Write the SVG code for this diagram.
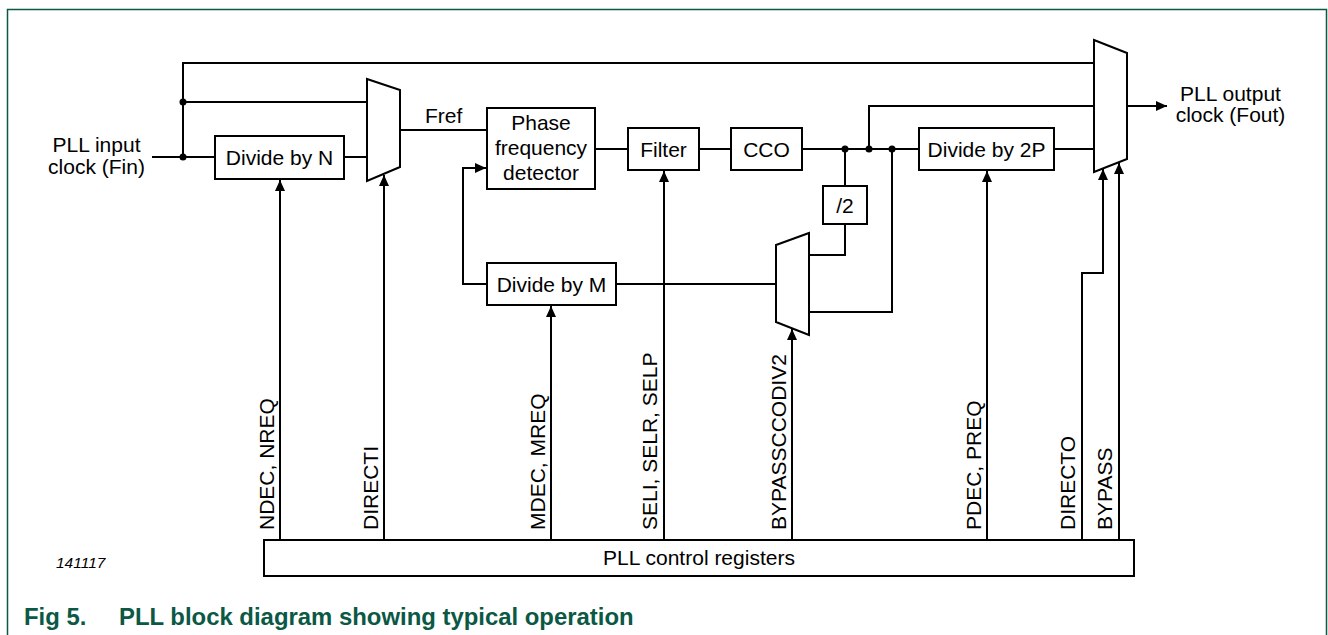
<svg xmlns="http://www.w3.org/2000/svg" width="1328" height="635" viewBox="0 0 1328 635">
<style>
.box{fill:#fff;stroke:#000;stroke-width:2}
.w{fill:none;stroke:#000;stroke-width:2}
.t{font-family:"Liberation Sans",Arial,sans-serif;font-size:21px;fill:#000}
.c{text-anchor:middle}
.dot{fill:#000}
.cap{font-family:"Liberation Sans",Arial,sans-serif;font-size:23.9px;font-weight:bold;fill:#0b5845}
</style>
<defs>
<marker id="arr" markerUnits="userSpaceOnUse" markerWidth="12" markerHeight="10" refX="11" refY="5" orient="auto">
<path d="M0,0 L11,5 L0,10 z" fill="#000"/>
</marker>
</defs>
<rect width="1328" height="635" fill="#fff"/>
<path d="M7.5,640 V9.5 H1326.5 V640" fill="none" stroke="#0b5845" stroke-width="1.5"/>

<g id="connectors">
<path class="w" d="M152,157 H215"/>
<path class="w" d="M183,157 V63 H1094"/>
<path class="w" d="M183,102 H367"/>
<path class="w" d="M344,157 H367"/>
<path class="w" d="M400,130 H487"/>
<path class="w" d="M595,149 H628"/>
<path class="w" d="M699,149 H731"/>
<path class="w" d="M802,149 H919"/>
<path class="w" d="M1054,149 H1094"/>
<path class="w" d="M869,149 V106 H1094"/>
<path class="w" d="M845,149 V186"/>
<path class="w" d="M845,224 V255 H809"/>
<path class="w" d="M892,149 V312 H809"/>
<path class="w" d="M776,284 H616"/>
<path class="w" d="M487,284 H463 V168 H486" marker-end="url(#arr)"/>
<path class="w" d="M1127,106 H1167" marker-end="url(#arr)"/>
<path class="w" d="M280,540 V180" marker-end="url(#arr)"/>
<path class="w" d="M384,540 V175" marker-end="url(#arr)"/>
<path class="w" d="M551,540 V306" marker-end="url(#arr)"/>
<path class="w" d="M664,540 V171" marker-end="url(#arr)"/>
<path class="w" d="M792,540 V329" marker-end="url(#arr)"/>
<path class="w" d="M987,540 V171" marker-end="url(#arr)"/>
<path class="w" d="M1082,540 V273 H1103 V169" marker-end="url(#arr)"/>
<path class="w" d="M1119,540 V163" marker-end="url(#arr)"/>
<circle class="dot" cx="183" cy="157" r="3.5"/>
<circle class="dot" cx="183" cy="102" r="3.5"/>
<circle class="dot" cx="845" cy="149" r="3.5"/>
<circle class="dot" cx="869" cy="149" r="3.5"/>
<circle class="dot" cx="892" cy="149" r="3.5"/>
</g>

<g id="input-label">
<text class="t c" x="96.5" y="152">PLL input</text>
<text class="t c" x="96.5" y="174">clock (Fin)</text>
</g>
<g id="divide-n">
<rect class="box" x="215" y="136" width="129" height="43"/>
<text class="t c" x="279.5" y="165">Divide by N</text>
</g>
<g id="mux1">
<polygon class="box" points="367,79 400,90 400,167 367,181"/>
</g>
<g id="fref-label">
<text class="t" x="425" y="123">Fref</text>
</g>
<g id="pfd">
<rect class="box" x="487" y="108" width="108" height="81"/>
<text class="t c" x="541" y="130">Phase</text>
<text class="t c" x="541" y="155">frequency</text>
<text class="t c" x="541" y="180">detector</text>
</g>
<g id="filter">
<rect class="box" x="628" y="128" width="71" height="42"/>
<text class="t c" x="663.5" y="156.5">Filter</text>
</g>
<g id="cco">
<rect class="box" x="731" y="128" width="71" height="42"/>
<text class="t c" x="766.5" y="156.5">CCO</text>
</g>
<g id="div2">
<rect class="box" x="823" y="186" width="44" height="38"/>
<text class="t c" x="845" y="212.5">/2</text>
</g>
<g id="mux2">
<polygon class="box" points="776,245 809,233 809,335 776,322"/>
</g>
<g id="divide-m">
<rect class="box" x="487" y="263" width="129" height="42"/>
<text class="t c" x="551.5" y="291.5">Divide by M</text>
</g>
<g id="divide-2p">
<rect class="box" x="919" y="128" width="135" height="42"/>
<text class="t c" x="986.5" y="156.5">Divide by 2P</text>
</g>
<g id="mux3">
<polygon class="box" points="1094,40 1127,53 1127,159 1094,172"/>
</g>
<g id="output-label">
<text class="t c" x="1230.5" y="101">PLL output</text>
<text class="t c" x="1230.5" y="122">clock (Fout)</text>
</g>
<g id="registers">
<rect class="box" x="264" y="540" width="870" height="36"/>
<text class="t c" x="699" y="565">PLL control registers</text>
</g>
<g id="control-labels">
<text class="t" x="274" y="530" transform="rotate(-90 274 530)">NDEC, NREQ</text>
<text class="t" x="378" y="530" transform="rotate(-90 378 530)">DIRECTI</text>
<text class="t" x="545" y="530" transform="rotate(-90 545 530)">MDEC, MREQ</text>
<text class="t" x="657" y="530" transform="rotate(-90 657 530)">SELI, SELR, SELP</text>
<text class="t" x="786" y="530" transform="rotate(-90 786 530)">BYPASSCCODIV2</text>
<text class="t" x="981" y="530" transform="rotate(-90 981 530)">PDEC, PREQ</text>
<text class="t" x="1075" y="530" transform="rotate(-90 1075 530)">DIRECTO</text>
<text class="t" x="1112" y="530" transform="rotate(-90 1112 530)">BYPASS</text>
</g>
<g id="figure-id">
<text x="56" y="568" style="font-family:'Liberation Sans',Arial,sans-serif;font-size:15.5px;font-style:italic;fill:#000">141117</text>
</g>
<g id="caption">
<text class="cap" x="24" y="625">Fig 5.</text>
<text class="cap" x="119" y="625">PLL block diagram showing typical operation</text>
</g>
</svg>
